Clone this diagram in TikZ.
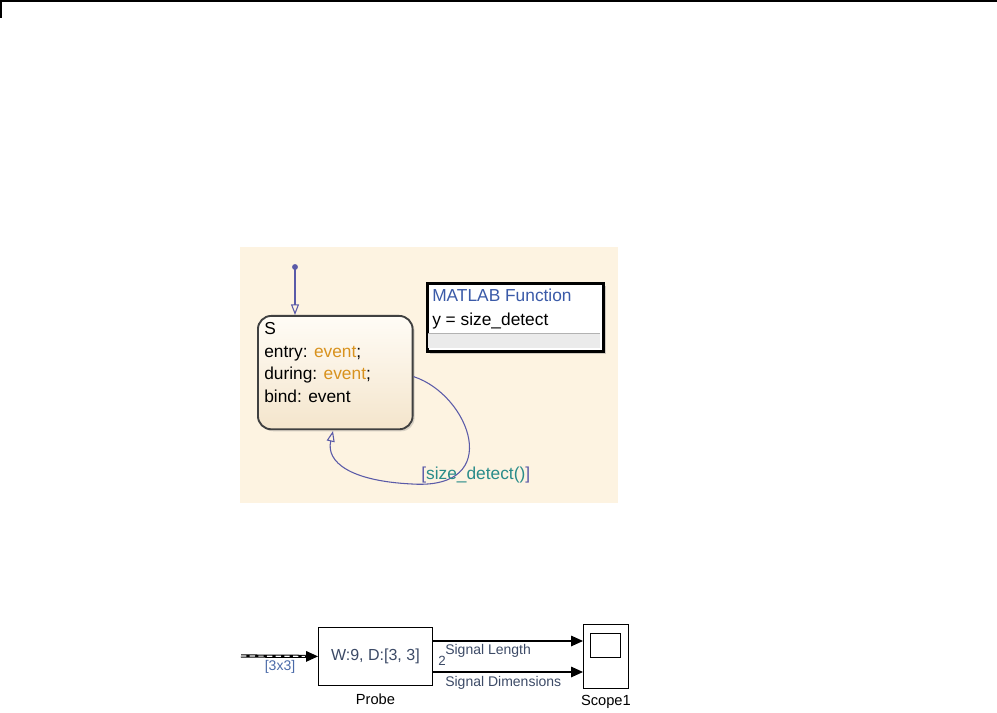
\documentclass[tikz,border=0pt]{standalone}
\usepackage{fontspec}
\setmainfont{Liberation Sans}
\usetikzlibrary{positioning,arrows.meta,shadows}
\definecolor{chartbg}{HTML}{FDF3E1}
\definecolor{stattop}{HTML}{FFFCF6}
\definecolor{statbot}{HTML}{F4E5CC}
\definecolor{trans}{HTML}{5A5AA8}
\definecolor{evcol}{HTML}{D8921E}
\definecolor{condcol}{HTML}{2A8C8A}
\definecolor{fcnblue}{HTML}{3A5AA8}
\definecolor{sigtext}{HTML}{3C4A66}
\definecolor{dimtext}{HTML}{4A6AA8}

\begin{document}
\begin{tikzpicture}[x=0.75pt, y=-0.75pt, every node/.style={inner sep=0pt},
  statebox/.style={draw=black!75, line width=1.4pt, rounded corners=10pt, top color=stattop, bottom color=statbot, drop shadow={opacity=0.3, shadow xshift=1.5pt, shadow yshift=-1.5pt}},
  fcnbox/.style={draw=black, line width=2.2pt, fill=white, drop shadow={opacity=0.35, shadow xshift=2pt, shadow yshift=-2pt}},
  blk/.style={draw=black, line width=0.6pt, fill=white},
  sig/.style={-{Triangle[length=9pt, width=8pt]}, line width=0.8pt},
  tr/.style={draw=trans, line width=0.8pt, -{Triangle[open, length=8pt, width=6pt]}},
  chtext/.style={font=\fontsize{13}{17}\selectfont},
  lbl/.style={font=\fontsize{10.5}{12}\selectfont, text=sigtext}]
\useasboundingbox (0,0) rectangle (997,713);
% page header rule
\draw[line width=1.2pt] (0,1) -- (997,1);
\draw[line width=1.2pt] (1,0) -- (1,18);

% chart
\fill[chartbg] (240,247) rectangle (618,503);
\node[statebox, minimum width=116pt, minimum height=85pt, anchor=north west] (S) at (257,315) {};
\node[chtext, anchor=north west, align=left] (Stext) at (264,322)
  {S\\ entry: \textcolor{evcol}{event};\\ during: \textcolor{evcol}{event};\\ bind: event};
\fill[trans] (295,267) circle (2.2pt) coordinate (dflt);
\draw[tr] (dflt) -- (S.north -| dflt);
\coordinate (loopend) at (333,431);
\draw[tr] ([yshift=-3pt]S.east) .. controls (470,395) and (505,490) .. (412,484) .. controls (350,481) and (326,462) .. (loopend);
\node[chtext, anchor=west] (cond) at (421,475) {\textcolor{trans}{[}\textcolor{condcol}{size\_detect()}\textcolor{trans}{]}};

% MATLAB function
\node[fcnbox, minimum width=132pt, minimum height=51pt, anchor=north west] (fcn) at (426,282) {};
\fill[black!8] (428,333) rectangle (600,348);
\draw[black!30] (428,333) -- (600,333);
\node[chtext, anchor=west, text=fcnblue] (fname) at (432,295) {MATLAB Function};
\node[chtext, anchor=west] (fsig) at (432,321) {y = size\_detect};

% model
\node[blk, minimum width=85.5pt, minimum height=43.5pt, anchor=north west] (probe) at (318,627) {};
\node[lbl, font=\fontsize{12}{14}\selectfont] (ptext) at (probe) {W:9, D:[3, 3]};
\node[below=6pt of probe, font=\fontsize{11}{13}\selectfont] (pname) {Probe};
\node[blk, minimum width=33.75pt, minimum height=48pt, anchor=north west] (scope) at (583,624) {};
\node[blk, minimum width=22.5pt, minimum height=18pt, anchor=north west] (screen) at (590,633) {};
\node[below=5pt of scope, font=\fontsize{11}{13}\selectfont] (sname) {Scope1};

\coordinate (src) at (241,656);
\draw[line width=2.4pt] (src) -- ([xshift=-8pt]probe.west);
\draw[white, line width=0.9pt, dash pattern=on 4pt off 2.5pt] (src) -- ([xshift=-9pt]probe.west);
\draw[sig] ([xshift=-10pt]probe.west) -- (probe.west);
\node[lbl, text=dimtext] (dims) at (280,667) {[3x3]};

\coordinate (o1) at (432,641);
\coordinate (o2) at (432,672);
\draw[sig] (o1) -- (o1 -| scope.west);
\draw[sig] (o2) -- (o2 -| scope.west);
\node[lbl, anchor=west] (l1) at (445,651) {Signal Length};
\node[lbl, anchor=west, font=\fontsize{10}{11}\selectfont] (wd) at (438,661) {2};
\node[lbl, anchor=west] (l2) at (445,683) {Signal Dimensions};
\end{tikzpicture}
\end{document}
